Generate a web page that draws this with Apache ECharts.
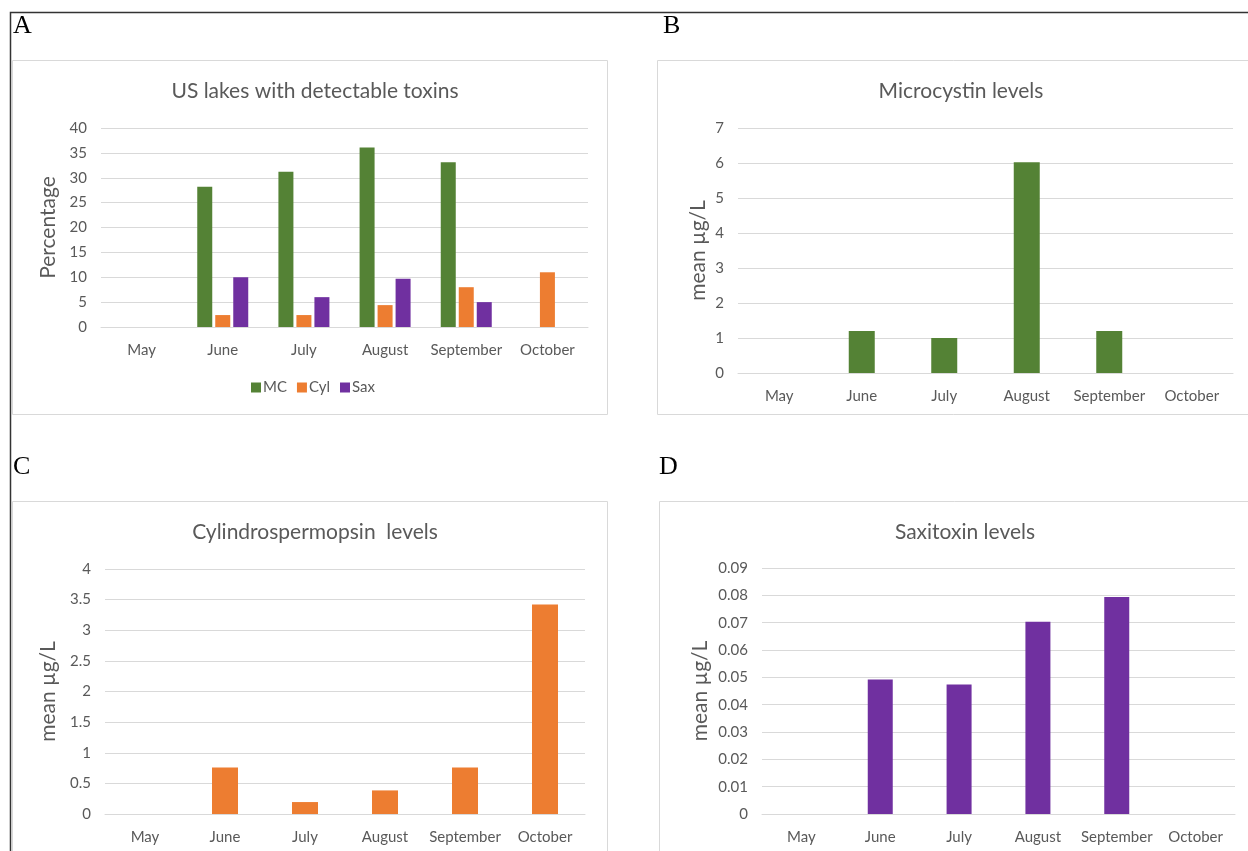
<!DOCTYPE html>
<html><head><meta charset="utf-8">
<script src="https://cdn.jsdelivr.net/npm/echarts@6/dist/echarts.min.js"></script>
<style>html,body{margin:0;padding:0;background:#fff}#c{width:1248px;height:851px}</style>
</head><body><div id="c"></div>
<script>
const months = ['May','June','July','August','September','October'];
// Panel A: percentage of lakes with detectable toxins
const pctMC  = [null, 28.2, 31.2, 36.1, 33.1, null];
const pctCyl = [null, 2.4, 2.4, 4.4, 8.0, 11.0];
const pctSax = [null, 10.0, 6.0, 9.7, 5.0, null];
// Panel B: microcystin mean µg/L
const mcLevels = [null, 1.2, 1.0, 6.02, 1.2, null];
// Panel C: cylindrospermopsin mean µg/L
const cylLevels = [null, 0.76, 0.195, 0.385, 0.76, 3.42];
// Panel D: saxitoxin mean µg/L
const saxLevels = [null, 0.0492, 0.0474, 0.0703, 0.0794, null];

const GREEN = '#548235', ORANGE = '#ED7D31', PURPLE = '#7030A0';
const TXT = '#595959', GRID = '#d9d9d9';
const FONT = 'Lato, "Open Sans", sans-serif';

const chart = echarts.init(document.getElementById('c'), null, {renderer:'canvas'});

const grids = [
  {left:101, top:128, width:487, height:199},
  {left:738, top:128, width:495, height:245},
  {left:105, top:569, width:480, height:245},
  {left:762, top:568, width:473, height:246}
];
const yCfg = [
  {min:0,max:40,interval:5,name:'Percentage',gap:42,fmt:v=>v},
  {min:0,max:7,interval:1,name:'mean µg/L',gap:29,fmt:v=>v},
  {min:0,max:4,interval:0.5,name:'mean µg/L',gap:46,fmt:v=>v},
  {min:0,max:0.09,interval:0.01,name:'mean µg/L',gap:51,fmt:v=>v===0?'0':v.toFixed(2)}
];

const xAxis = grids.map((g,i)=>({
  type:'category', gridIndex:i, data:months,
  axisLine:{show:true,lineStyle:{color:GRID,width:1}},
  axisTick:{show:false},
  axisLabel:{color:TXT,fontFamily:FONT,fontSize:15,margin:16,interval:0}
}));
const yAxis = yCfg.map((c,i)=>({
  type:'value', gridIndex:i, min:c.min, max:c.max, interval:c.interval,
  name:c.name, nameLocation:'middle', nameGap:c.gap, nameRotate:90,
  nameTextStyle:{color:TXT,fontFamily:FONT,fontSize:21},
  axisLine:{show:false}, axisTick:{show:false},
  axisLabel:{color:TXT,fontFamily:FONT,fontSize:15,margin:14,formatter:c.fmt},
  splitLine:{lineStyle:{color:GRID,width:1}}
}));

const titles = [
  {text:'US lakes with detectable toxins', left:310, top:76},
  {text:'Microcystin levels', left:956, top:76},
  {text:'Cylindrospermopsin  levels', left:310, top:517},
  {text:'Saxitoxin levels', left:960, top:517}
].map(t=>({text:t.text,left:t.left,top:t.top,textAlign:'center',
  textStyle:{color:TXT,fontFamily:FONT,fontSize:21,fontWeight:'normal'}}));

const series = [
  {name:'MC', type:'bar', xAxisIndex:0, yAxisIndex:0, data:pctMC, itemStyle:{color:GREEN}, barWidth:15, barGap:'20%'},
  {name:'Cyl', type:'bar', xAxisIndex:0, yAxisIndex:0, data:pctCyl, itemStyle:{color:ORANGE}, barWidth:15, barGap:'20%'},
  {name:'Sax', type:'bar', xAxisIndex:0, yAxisIndex:0, data:pctSax, itemStyle:{color:PURPLE}, barWidth:15, barGap:'20%'},
  {name:'Microcystin', type:'bar', xAxisIndex:1, yAxisIndex:1, data:mcLevels, itemStyle:{color:GREEN}, barWidth:26},
  {name:'Cylindrospermopsin', type:'bar', xAxisIndex:2, yAxisIndex:2, data:cylLevels, itemStyle:{color:ORANGE}, barWidth:26},
  {name:'Saxitoxin', type:'bar', xAxisIndex:3, yAxisIndex:3, data:saxLevels, itemStyle:{color:PURPLE}, barWidth:25}
];

const box = (x,y,w,h)=>({type:'rect',shape:{x:x+0.5,y:y+0.5,width:w,height:h},
  style:{fill:'none',stroke:'#d9d9d9',lineWidth:1},silent:true,z:-1});
const letter = (t,x,y)=>({type:'text',x:x,y:y,style:{text:t,fill:'#000',
  font:'26px "Liberation Serif", "DejaVu Serif", serif'},silent:true});

chart.setOption({
  animation:false,
  title:titles,
  legend:{data:['MC','Cyl','Sax'], left:246, top:375, itemWidth:10, itemHeight:10, itemGap:10,
    icon:'rect', textStyle:{color:TXT,fontFamily:FONT,fontSize:15,padding:[0,0,0,-3]}},
  grid:grids,
  xAxis:xAxis,
  yAxis:yAxis,
  series:series,
  graphic:[
    {type:'polyline',shape:{points:[[10.5,851],[10.5,12.5],[1248,12.5]]},style:{stroke:'#333',lineWidth:1.5,fill:'none'},silent:true},
    box(12,60,595,354),
    box(657,60,600,354),
    box(12,501,595,360),
    box(659,501,600,360),
    letter('A',13,13),
    letter('B',663,13),
    letter('C',13,454),
    letter('D',659,454)
  ]
});
</script></body></html>
